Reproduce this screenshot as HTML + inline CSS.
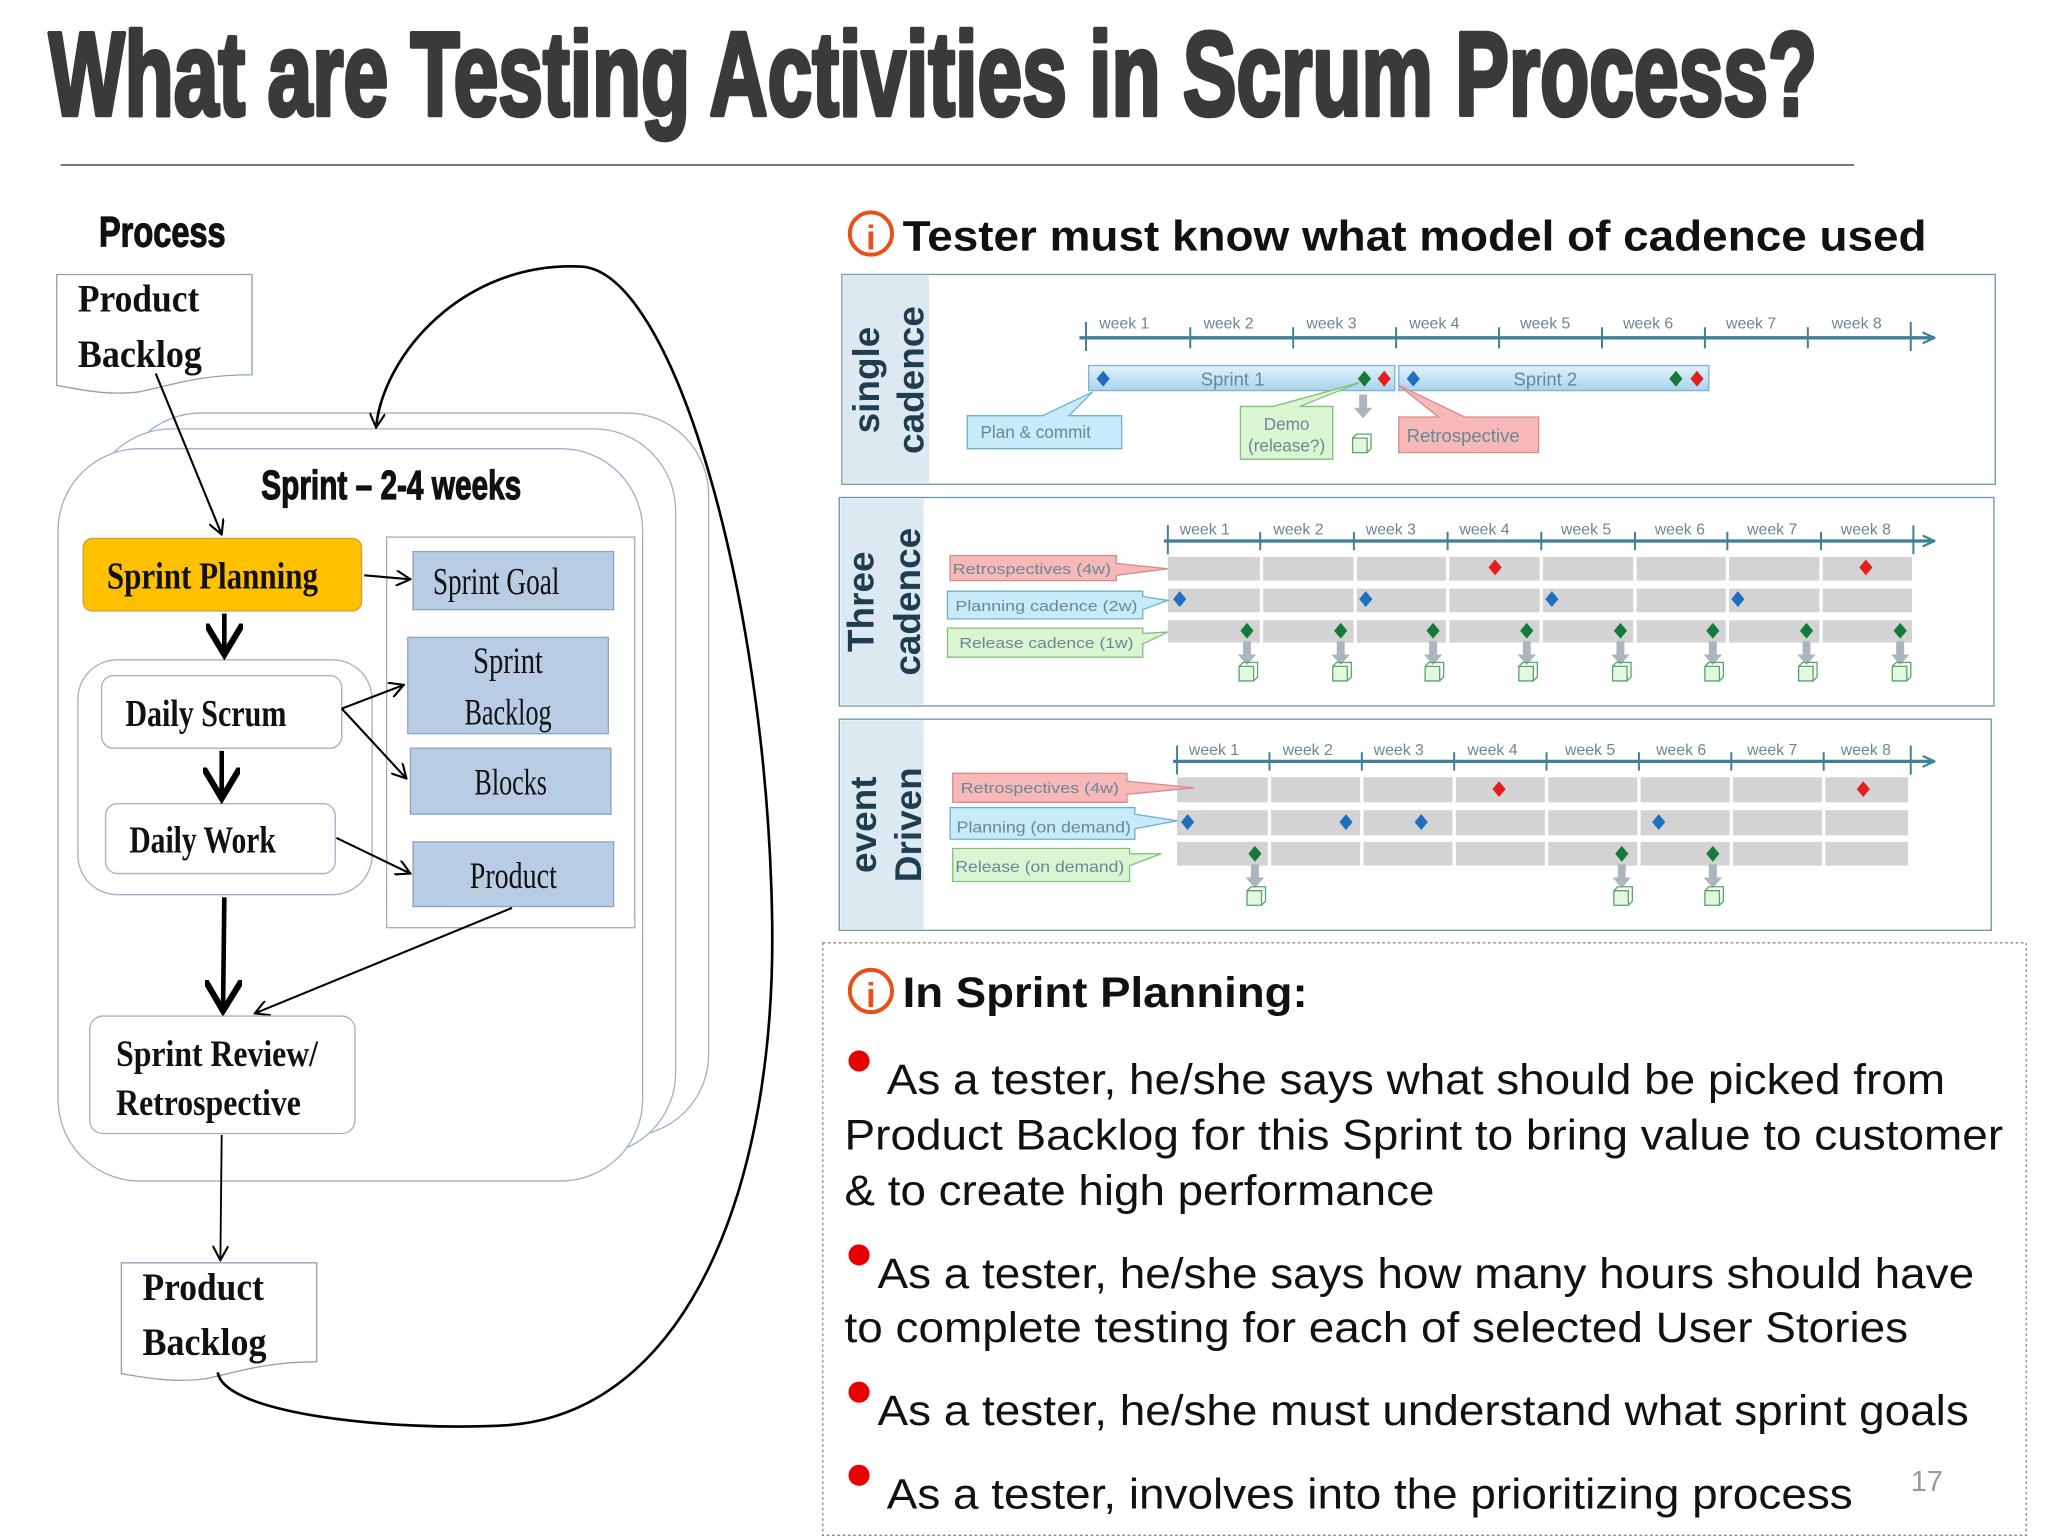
<!DOCTYPE html>
<html><head><meta charset="utf-8"><style>
html,body{margin:0;padding:0;background:#fff;}
svg{display:block;}
.t{font-family:"Liberation Sans Narrow","Liberation Sans",sans-serif;font-weight:bold;}
.s{font-family:"Liberation Serif",serif;font-weight:bold;fill:#111;}
.a{font-family:"Liberation Sans",sans-serif;}
.wk{font-family:"Liberation Sans Narrow","Liberation Sans",sans-serif;font-size:12px;fill:#6a8796;}
.lb{font-family:"Liberation Sans",sans-serif;font-weight:bold;fill:#1f3d4f;font-size:28px;}
</style></head><body>
<svg width="2048" height="1536" viewBox="0 0 1552 1164" xmlns="http://www.w3.org/2000/svg">
<defs>
<path id="dm" d="M0,-6 L5,0 L0,6 L-5,0Z"/>
<g id="cube"><path d="M-6,0 h11 v-11 h-11z" fill="#e4f7e0" stroke="#5aa56a" stroke-width="1"/><path d="M-6,-11 l3,-3 h11 v11 l-3,3" fill="none" stroke="#5aa56a" stroke-width="1"/></g>
<path id="da" d="M-3,0 h6 v10 h4 l-7,8 l-7,-8 h4z" fill="#a9b5bf"/>
<marker id="ao" viewBox="0 0 12 12" refX="11" refY="6" markerWidth="12" markerHeight="12" markerUnits="userSpaceOnUse" orient="auto"><path d="M0,0 L11,6 L0,12" fill="none" stroke="#000" stroke-width="1.6"/></marker>
<marker id="ab" viewBox="0 0 12 12" refX="10" refY="6" markerWidth="8" markerHeight="8" orient="auto"><path d="M0,0 L10,6 L0,12" fill="none" stroke="#000" stroke-width="2"/></marker>
<marker id="ax" viewBox="0 0 12 12" refX="11" refY="6" markerWidth="10" markerHeight="10" markerUnits="userSpaceOnUse" orient="auto"><path d="M0,1 L11,6 L0,11" fill="none" stroke="#3f7f9a" stroke-width="2"/></marker>
<linearGradient id="sb" x1="0" y1="0" x2="0" y2="1"><stop offset="0" stop-color="#e3f2fb"/><stop offset="1" stop-color="#a9d3ee"/></linearGradient>
</defs>

<!-- Title -->
<text class="t" x="37" y="87" font-size="90" fill="#3a3a3a" stroke="#3a3a3a" stroke-width="3.5" stroke-linejoin="round" textLength="1340" lengthAdjust="spacingAndGlyphs">What are Testing Activities in Scrum Process?</text>
<line x1="46" y1="125" x2="1405" y2="125" stroke="#777" stroke-width="1.5"/>

<!-- LEFT DIAGRAM -->
<text class="t" x="75" y="187" font-size="32" fill="#111" stroke="#111" stroke-width="0.9" textLength="96" lengthAdjust="spacingAndGlyphs">Process</text>

<rect x="90" y="313" width="447" height="548" rx="62" fill="#fff" stroke="#9fb0c8" stroke-width="1"/>
<rect x="68" y="325" width="444" height="550" rx="62" fill="#fff" stroke="#9fb0c8" stroke-width="1"/>
<rect x="44" y="340" width="443" height="555" rx="62" fill="#fff" stroke="#9fb0c8" stroke-width="1"/>
<text class="t" x="198" y="378" font-size="31" fill="#111" stroke="#111" stroke-width="0.9" textLength="197" lengthAdjust="spacingAndGlyphs">Sprint – 2-4 weeks</text>

<path d="M43,208 H191 V284 C150,284 130,292 105,297 C80,300 60,295 43,292 Z" fill="#fff" stroke="#8da0b8" stroke-width="1"/>
<text class="s" x="59" y="236" font-size="30" textLength="92" lengthAdjust="spacingAndGlyphs">Product</text>
<text class="s" x="59" y="278" font-size="30" textLength="94" lengthAdjust="spacingAndGlyphs">Backlog</text>
<line x1="118" y1="283" x2="168" y2="405" stroke="#000" stroke-width="1.6" marker-end="url(#ao)"/>

<rect x="63" y="408" width="211" height="55" rx="7" fill="#ffc000" stroke="#c9a23c" stroke-width="1"/>
<text class="s" x="81" y="446" font-size="29" textLength="160" lengthAdjust="spacingAndGlyphs">Sprint Planning</text>

<rect x="293" y="407" width="188" height="296" fill="#fff" stroke="#9fb0c8" stroke-width="1"/>
<rect x="313" y="418" width="152" height="44" fill="#b8cce4" stroke="#8da3c4" stroke-width="1"/>
<text class="s" x="328" y="450" font-size="29" textLength="96" lengthAdjust="spacingAndGlyphs" style="font-weight:normal">Sprint Goal</text>
<rect x="309" y="483" width="152" height="73" fill="#b8cce4" stroke="#8da3c4" stroke-width="1"/>
<text class="s" x="385" y="510" font-size="28" text-anchor="middle" style="font-weight:normal" textLength="53" lengthAdjust="spacingAndGlyphs">Sprint</text>
<text class="s" x="385" y="549" font-size="28" text-anchor="middle" style="font-weight:normal" textLength="66" lengthAdjust="spacingAndGlyphs">Backlog</text>
<rect x="311" y="567" width="152" height="50" fill="#b8cce4" stroke="#8da3c4" stroke-width="1"/>
<text class="s" x="387" y="602" font-size="28" text-anchor="middle" style="font-weight:normal" textLength="55" lengthAdjust="spacingAndGlyphs">Blocks</text>
<rect x="313" y="638" width="152" height="49" fill="#b8cce4" stroke="#8da3c4" stroke-width="1"/>
<text class="s" x="389" y="673" font-size="28" text-anchor="middle" style="font-weight:normal" textLength="66" lengthAdjust="spacingAndGlyphs">Product</text>

<rect x="59" y="500" width="223" height="178" rx="30" fill="#fff" stroke="#9fb0c8" stroke-width="1"/>
<rect x="77" y="512" width="182" height="55" rx="9" fill="#fff" stroke="#9fb0c8" stroke-width="1"/>
<text class="s" x="95" y="550" font-size="29" textLength="122" lengthAdjust="spacingAndGlyphs">Daily Scrum</text>
<rect x="80" y="609" width="174" height="53" rx="9" fill="#fff" stroke="#9fb0c8" stroke-width="1"/>
<text class="s" x="98" y="646" font-size="29" textLength="111" lengthAdjust="spacingAndGlyphs">Daily Work</text>

<line x1="170" y1="465" x2="170" y2="496" stroke="#000" stroke-width="3.5" marker-end="url(#ab)"/>
<line x1="168" y1="569" x2="168" y2="605" stroke="#000" stroke-width="3.5" marker-end="url(#ab)"/>
<line x1="170" y1="680" x2="169" y2="766" stroke="#000" stroke-width="3.5" marker-end="url(#ab)"/>
<line x1="276" y1="436" x2="311" y2="439" stroke="#000" stroke-width="1.6" marker-end="url(#ao)"/>
<line x1="259" y1="537" x2="306" y2="519" stroke="#000" stroke-width="1.6" marker-end="url(#ao)"/>
<line x1="259" y1="537" x2="308" y2="590" stroke="#000" stroke-width="1.6" marker-end="url(#ao)"/>
<line x1="255" y1="635" x2="311" y2="662" stroke="#000" stroke-width="1.6" marker-end="url(#ao)"/>
<line x1="388" y1="688" x2="193" y2="768" stroke="#000" stroke-width="1.6" marker-end="url(#ao)"/>

<rect x="68" y="770" width="201" height="89" rx="10" fill="#fff" stroke="#9fb0c8" stroke-width="1"/>
<text class="s" x="88" y="808" font-size="28" textLength="153" lengthAdjust="spacingAndGlyphs">Sprint Review/</text>
<text class="s" x="88" y="845" font-size="28" textLength="140" lengthAdjust="spacingAndGlyphs">Retrospective</text>
<line x1="168" y1="860" x2="167" y2="955" stroke="#000" stroke-width="1.4" marker-end="url(#ao)"/>

<path d="M92,957 H240 V1032 C200,1032 180,1040 155,1045 C130,1048 110,1044 92,1041 Z" fill="#fff" stroke="#8da0b8" stroke-width="1"/>
<text class="s" x="108" y="985" font-size="30" textLength="92" lengthAdjust="spacingAndGlyphs">Product</text>
<text class="s" x="108" y="1027" font-size="30" textLength="94" lengthAdjust="spacingAndGlyphs">Backlog</text>

<path d="M165,1040 C170,1072 300,1085 385,1080 C520,1070 590,900 585,690 C580,450 510,205 440,202 C350,198 290,270 285,324" fill="none" stroke="#000" stroke-width="2" marker-end="url(#ao)"/>

<!-- RIGHT -->
<circle cx="660" cy="177" r="16" fill="#fff" stroke="#e8501a" stroke-width="3"/>
<text class="a" x="660" y="189" font-size="26" font-weight="bold" fill="#e8501a" text-anchor="middle">i</text>
<text class="a" x="684" y="190" font-size="32" font-weight="bold" fill="#111" textLength="776" lengthAdjust="spacingAndGlyphs">Tester must know what model of cadence used</text>

<!-- Panel 1 -->
<rect x="638" y="208" width="874" height="159" fill="#fff" stroke="#6f98a8" stroke-width="1"/>
<rect x="639" y="209" width="65" height="157" fill="#dde9f1"/>
<text class="lb" transform="translate(666,288) rotate(-90)" text-anchor="middle">single</text>
<text class="lb" transform="translate(700,288) rotate(-90)" text-anchor="middle">cadence</text>
<line x1="818" y1="256" x2="1466" y2="256" stroke="#3f7f9a" stroke-width="2.5" marker-end="url(#ax)"/>
<g stroke="#3f7f9a" stroke-width="1.5">
<line x1="823" y1="244" x2="823" y2="266"/><line x1="902" y1="248" x2="902" y2="264"/><line x1="980" y1="248" x2="980" y2="264"/><line x1="1058" y1="248" x2="1058" y2="264"/><line x1="1136" y1="248" x2="1136" y2="264"/><line x1="1214" y1="248" x2="1214" y2="264"/><line x1="1292" y1="248" x2="1292" y2="264"/><line x1="1370" y1="248" x2="1370" y2="264"/><line x1="1448" y1="244" x2="1448" y2="266"/>
</g>
<g class="wk"><text x="833" y="249">week 1</text><text x="912" y="249">week 2</text><text x="990" y="249">week 3</text><text x="1068" y="249">week 4</text><text x="1152" y="249">week 5</text><text x="1230" y="249">week 6</text><text x="1308" y="249">week 7</text><text x="1388" y="249">week 8</text></g>
<rect x="825" y="277" width="232" height="19" fill="url(#sb)" stroke="#7fb3d3"/>
<rect x="1060" y="277" width="235" height="19" fill="url(#sb)" stroke="#7fb3d3"/>
<text class="wk" x="910" y="292" style="font-size:14px" fill="#4f6f80">Sprint 1</text>
<text class="wk" x="1147" y="292" style="font-size:14px">Sprint 2</text>
<use href="#dm" x="836" y="287" fill="#1f6fbf"/><use href="#dm" x="1034" y="287" fill="#137a3a"/><use href="#dm" x="1049" y="287" fill="#e0201c"/><use href="#dm" x="1071" y="287" fill="#1f6fbf"/><use href="#dm" x="1270" y="287" fill="#137a3a"/><use href="#dm" x="1286" y="287" fill="#e0201c"/>
<path d="M733,315 H790 L828,297 L810,315 H850 V340 H733Z" fill="#c7ebf8" stroke="#6ab3cf"/>
<text class="wk" x="743" y="332" style="font-size:13px" fill="#4a6a7a">Plan &amp; commit</text>
<path d="M940,308 H965 L1030,290 L985,308 H1010 V348 H940Z" fill="#dbf5d3" stroke="#80c07a"/>
<text class="wk" x="975" y="326" text-anchor="middle" style="font-size:13px">Demo</text>
<text class="wk" x="975" y="342" text-anchor="middle" style="font-size:13px">(release?)</text>
<path d="M1060,316 H1090 L1060,292 L1110,316 H1166 V343 H1060Z" fill="#f6b8b8" stroke="#d98a8a"/>
<text class="wk" x="1066" y="335" style="font-size:14px">Retrospective</text>
<use href="#da" x="1033" y="299"/>
<use href="#cube" x="1031" y="343"/>

<!-- Panel 2 -->
<rect x="636" y="377" width="875" height="158" fill="#fff" stroke="#6f98a8" stroke-width="1"/>
<rect x="637" y="378" width="63" height="156" fill="#dde9f1"/>
<text class="lb" transform="translate(662,456) rotate(-90)" text-anchor="middle">Three</text>
<text class="lb" transform="translate(697,456) rotate(-90)" text-anchor="middle">cadence</text>
<line x1="882" y1="410" x2="1466" y2="410" stroke="#3f7f9a" stroke-width="2.5" marker-end="url(#ax)"/>
<g stroke="#3f7f9a" stroke-width="1.5"><line x1="885" y1="398" x2="885" y2="420"/><line x1="955" y1="403" x2="955" y2="417"/><line x1="1026" y1="403" x2="1026" y2="417"/><line x1="1097" y1="403" x2="1097" y2="417"/><line x1="1168" y1="403" x2="1168" y2="417"/><line x1="1239" y1="403" x2="1239" y2="417"/><line x1="1309" y1="403" x2="1309" y2="417"/><line x1="1380" y1="403" x2="1380" y2="417"/><line x1="1450" y1="398" x2="1450" y2="420"/></g>
<g class="wk"><text x="894" y="405">week 1</text><text x="965" y="405">week 2</text><text x="1035" y="405">week 3</text><text x="1106" y="405">week 4</text><text x="1183" y="405">week 5</text><text x="1254" y="405">week 6</text><text x="1324" y="405">week 7</text><text x="1395" y="405">week 8</text></g>
<rect x="885" y="422" width="564" height="18" fill="#d3d3d3"/><rect x="885" y="446" width="564" height="18" fill="#d3d3d3"/><rect x="885" y="470" width="564" height="17" fill="#d3d3d3"/>
<g stroke="#fff" stroke-width="2.5"><line x1="956" y1="420" x2="956" y2="489"/><line x1="1027" y1="420" x2="1027" y2="489"/><line x1="1097" y1="420" x2="1097" y2="489"/><line x1="1168" y1="420" x2="1168" y2="489"/><line x1="1239" y1="420" x2="1239" y2="489"/><line x1="1309" y1="420" x2="1309" y2="489"/><line x1="1380" y1="420" x2="1380" y2="489"/></g>
<path d="M720,421 H846 V427 L885,431 L846,436 V440 H720Z" fill="#f6b8b8" stroke="#d98a8a"/>
<text class="wk" x="722" y="435" style="font-size:11px" fill="#7a4a4a" textLength="120" lengthAdjust="spacingAndGlyphs">Retrospectives (4w)</text>
<path d="M718,448 H866 V452 L885,455 L866,462 V469 H718Z" fill="#c7ebf8" stroke="#6ab3cf"/>
<text class="wk" x="724" y="463" style="font-size:11px" textLength="138" lengthAdjust="spacingAndGlyphs">Planning cadence (2w)</text>
<path d="M718,476 H866 V480 L885,479 L866,488 V498 H718Z" fill="#dbf5d3" stroke="#80c07a"/>
<text class="wk" x="727" y="491" style="font-size:11px" textLength="132" lengthAdjust="spacingAndGlyphs">Release cadence (1w)</text>
<use href="#dm" x="1133" y="430" fill="#e0201c"/><use href="#dm" x="1414" y="430" fill="#e0201c"/>
<use href="#dm" x="894" y="454" fill="#1f6fbf"/><use href="#dm" x="1035" y="454" fill="#1f6fbf"/><use href="#dm" x="1176" y="454" fill="#1f6fbf"/><use href="#dm" x="1317" y="454" fill="#1f6fbf"/>
<g fill="#137a3a"><use href="#dm" x="945" y="478"/><use href="#dm" x="1016" y="478"/><use href="#dm" x="1086" y="478"/><use href="#dm" x="1157" y="478"/><use href="#dm" x="1228" y="478"/><use href="#dm" x="1298" y="478"/><use href="#dm" x="1369" y="478"/><use href="#dm" x="1440" y="478"/></g>
<use href="#da" x="945" y="486"/><use href="#da" x="1016" y="486"/><use href="#da" x="1086" y="486"/><use href="#da" x="1157" y="486"/><use href="#da" x="1228" y="486"/><use href="#da" x="1298" y="486"/><use href="#da" x="1369" y="486"/><use href="#da" x="1440" y="486"/>
<use href="#cube" x="945" y="516"/><use href="#cube" x="1016" y="516"/><use href="#cube" x="1086" y="516"/><use href="#cube" x="1157" y="516"/><use href="#cube" x="1228" y="516"/><use href="#cube" x="1298" y="516"/><use href="#cube" x="1369" y="516"/><use href="#cube" x="1440" y="516"/>

<!-- Panel 3 -->
<rect x="636" y="545" width="873" height="160" fill="#fff" stroke="#6f98a8" stroke-width="1"/>
<rect x="637" y="546" width="63" height="158" fill="#dde9f1"/>
<text class="lb" transform="translate(664,625) rotate(-90)" text-anchor="middle">event</text>
<text class="lb" transform="translate(698,625) rotate(-90)" text-anchor="middle">Driven</text>
<line x1="889" y1="577" x2="1466" y2="577" stroke="#3f7f9a" stroke-width="2.5" marker-end="url(#ax)"/>
<g stroke="#3f7f9a" stroke-width="1.5"><line x1="892" y1="565" x2="892" y2="587"/><line x1="962" y1="570" x2="962" y2="584"/><line x1="1032" y1="570" x2="1032" y2="584"/><line x1="1102" y1="570" x2="1102" y2="584"/><line x1="1172" y1="570" x2="1172" y2="584"/><line x1="1242" y1="570" x2="1242" y2="584"/><line x1="1312" y1="570" x2="1312" y2="584"/><line x1="1382" y1="570" x2="1382" y2="584"/><line x1="1448" y1="565" x2="1448" y2="587"/></g>
<g class="wk"><text x="901" y="572">week 1</text><text x="972" y="572">week 2</text><text x="1041" y="572">week 3</text><text x="1112" y="572">week 4</text><text x="1186" y="572">week 5</text><text x="1255" y="572">week 6</text><text x="1324" y="572">week 7</text><text x="1395" y="572">week 8</text></g>
<rect x="892" y="589" width="554" height="19" fill="#d3d3d3"/><rect x="892" y="614" width="554" height="19" fill="#d3d3d3"/><rect x="892" y="638" width="554" height="18" fill="#d3d3d3"/>
<g stroke="#fff" stroke-width="2.5"><line x1="962" y1="587" x2="962" y2="658"/><line x1="1032" y1="587" x2="1032" y2="658"/><line x1="1102" y1="587" x2="1102" y2="658"/><line x1="1172" y1="587" x2="1172" y2="658"/><line x1="1242" y1="587" x2="1242" y2="658"/><line x1="1312" y1="587" x2="1312" y2="658"/><line x1="1382" y1="587" x2="1382" y2="658"/></g>
<path d="M722,586 H854 V592 L905,597 L854,602 V608 H722Z" fill="#f6b8b8" stroke="#d98a8a"/>
<text class="wk" x="728" y="601" style="font-size:11px" fill="#7a4a4a" textLength="120" lengthAdjust="spacingAndGlyphs">Retrospectives (4w)</text>
<path d="M720,612 H860 V617 L892,622 L860,628 V636 H720Z" fill="#c7ebf8" stroke="#6ab3cf"/>
<text class="wk" x="725" y="631" style="font-size:12px" textLength="132" lengthAdjust="spacingAndGlyphs">Planning (on demand)</text>
<path d="M722,643 H856 V647 L880,647 L856,656 V668 H722Z" fill="#dbf5d3" stroke="#80c07a"/>
<text class="wk" x="724" y="661" style="font-size:12px" textLength="128" lengthAdjust="spacingAndGlyphs">Release (on demand)</text>
<use href="#dm" x="1136" y="598" fill="#e0201c"/><use href="#dm" x="1412" y="598" fill="#e0201c"/>
<use href="#dm" x="900" y="623" fill="#1f6fbf"/><use href="#dm" x="1020" y="623" fill="#1f6fbf"/><use href="#dm" x="1077" y="623" fill="#1f6fbf"/><use href="#dm" x="1257" y="623" fill="#1f6fbf"/>
<use href="#dm" x="951" y="647" fill="#137a3a"/><use href="#dm" x="1229" y="647" fill="#137a3a"/><use href="#dm" x="1298" y="647" fill="#137a3a"/>
<use href="#da" x="951" y="655"/><use href="#da" x="1229" y="655"/><use href="#da" x="1298" y="655"/>
<use href="#cube" x="951" y="686"/><use href="#cube" x="1229" y="686"/><use href="#cube" x="1298" y="686"/>

<!-- text box -->
<rect x="623.5" y="714.5" width="912" height="449" fill="#fff" stroke="#888" stroke-width="1" stroke-dasharray="2,2"/>
<circle cx="660" cy="751" r="16" fill="#fff" stroke="#e8501a" stroke-width="3"/>
<text class="a" x="660" y="763" font-size="26" font-weight="bold" fill="#e8501a" text-anchor="middle">i</text>
<text class="a" x="684" y="763" font-size="32" font-weight="bold" fill="#111" textLength="307" lengthAdjust="spacingAndGlyphs">In Sprint Planning:</text>
<g fill="#e60000"><circle cx="651" cy="804" r="8"/><circle cx="651" cy="951" r="8"/><circle cx="651" cy="1055" r="8"/><circle cx="651" cy="1118" r="8"/></g>
<g class="a" font-size="32" fill="#111">
<text x="672" y="829" textLength="802" lengthAdjust="spacingAndGlyphs">As a tester, he/she says what should be picked from</text>
<text x="640" y="871" textLength="878" lengthAdjust="spacingAndGlyphs">Product Backlog for this Sprint to bring value to customer</text>
<text x="640" y="913" textLength="447" lengthAdjust="spacingAndGlyphs">&amp; to create high performance</text>
<text x="665" y="976" textLength="831" lengthAdjust="spacingAndGlyphs">As a tester, he/she says how many hours should have</text>
<text x="640" y="1017" textLength="806" lengthAdjust="spacingAndGlyphs">to complete testing for each of selected User Stories</text>
<text x="665" y="1080" textLength="827" lengthAdjust="spacingAndGlyphs">As a tester, he/she must understand what sprint goals</text>
<text x="672" y="1143" textLength="732" lengthAdjust="spacingAndGlyphs">As a tester, involves into the prioritizing process</text>
</g>
<text class="a" x="1448" y="1130" font-size="22" fill="#999">17</text>
</svg>
</body></html>
